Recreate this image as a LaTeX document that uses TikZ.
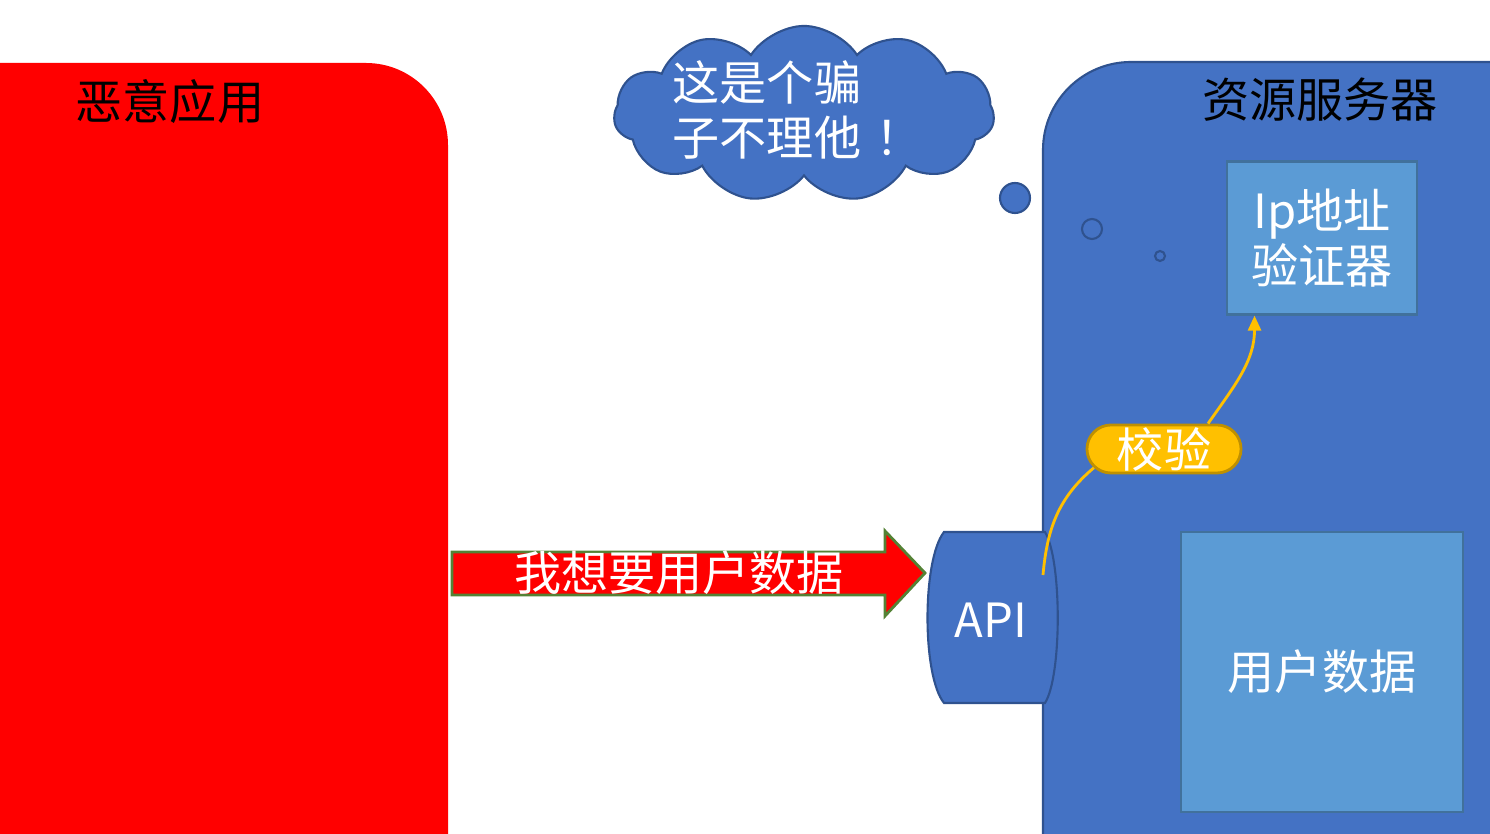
\documentclass[tikz,border=0pt]{standalone}
\usepackage{fontspec}
\newfontfamily\cjk{Noto Sans CJK SC}
\usepackage{tikz}
\usetikzlibrary{shapes.symbols,shapes.misc,arrows.meta,calc}
\definecolor{appred}{HTML}{FF0000}
\definecolor{srvblue}{HTML}{4472C4}
\definecolor{srvline}{HTML}{2F528F}
\definecolor{boxblue}{HTML}{5B9BD5}
\definecolor{boxline}{HTML}{41719C}
\definecolor{chkfill}{HTML}{FFC000}
\definecolor{chkline}{HTML}{BF9000}
\definecolor{arrline}{HTML}{548235}
\def\zt{\cjk\fontsize{13.4pt}{15.5pt}\selectfont}

\begin{document}
\begin{tikzpicture}[x=0.01cm,y=-0.01cm,
  box/.style={draw=boxline,fill=boxblue,line width=0.6pt,text=white,font=\zt,align=center,inner sep=0pt},
  bubble/.style={draw=srvline,fill=srvblue,line width=0.6pt},
  check/.style={draw=chkfill,line width=0.8pt,-{Triangle[length=0.15cm,width=0.13cm]}}]
\useasboundingbox (0,0) rectangle (1490,834);
%\draw[help lines] (0,0) grid[step=1cm] (1490,834);

% malicious app
\fill[appred] (0,860) -- (0,63) [rounded corners=0.82cm] -- (448,63) [sharp corners] -- (448,860) -- cycle;
\node[font=\zt,text=black] (apptitle) at (170,102) {恶意应用};

% resource server
\filldraw[fill=srvblue,draw=srvline,line width=0.6pt] (1043,860) [rounded corners=0.88cm] -- (1043,62) [sharp corners] -- (1510,62) -- (1510,860);
\node[font=\zt,text=black] (srvtitle) at (1320,100) {资源服务器};

\node[box,minimum width=1.9cm,minimum height=1.53cm] (ipbox) at (1322,238) {Ip地址\\验证器};
\node[box,minimum width=2.82cm,minimum height=2.79cm] (userdata) at (1322,672) {用户数据};

% API
\filldraw[fill=srvblue,draw=srvline,line width=0.6pt] (944,532) -- (1045,532) .. controls (1062,560) and (1062,676) .. (1045,703) -- (944,703) .. controls (922,676) and (922,560) .. (944,532) -- cycle;
\node[font=\zt,text=white] (api) at (991,620) {API};
\coordinate (apiout) at (1043,575);

% request arrow
\filldraw[fill=appred,draw=arrline,line width=0.8pt] (452,552) -- (885,552) -- (885,531) -- (925,573) -- (885,616) -- (885,595) -- (452,595) -- cycle;
\node[font=\zt,text=white] (request) at (679,573) {我想要用户数据};

% check
\node[rounded rectangle,draw=chkline,fill=chkfill,line width=0.8pt,minimum width=1.54cm,minimum height=0.48cm,inner sep=0pt,font=\zt,text=white] (chk) at (1164,449) {校验};
\draw[check,-] (apiout) to[out=85,in=220] (chk.195);
\draw[check] (chk.30) to[out=55,in=-90] (ipbox.229);

% thought cloud
\node[cloud,cloud puffs=11,cloud puff arc=115,cloud ignores aspect,bubble,minimum width=3.8cm,minimum height=1.76cm] (cloud) at (804,114) {};
\node[font=\zt,text=white,align=left,anchor=west,inner sep=0pt] (thought) at (672,110) {这是个骗\\子不理他\hspace{0.3em}！};
\draw[bubble] (1015,198) circle (15);
\draw[bubble] (1092,229) circle (10);
\draw[bubble] (1160,256) circle (5);
\end{tikzpicture}
\end{document}
